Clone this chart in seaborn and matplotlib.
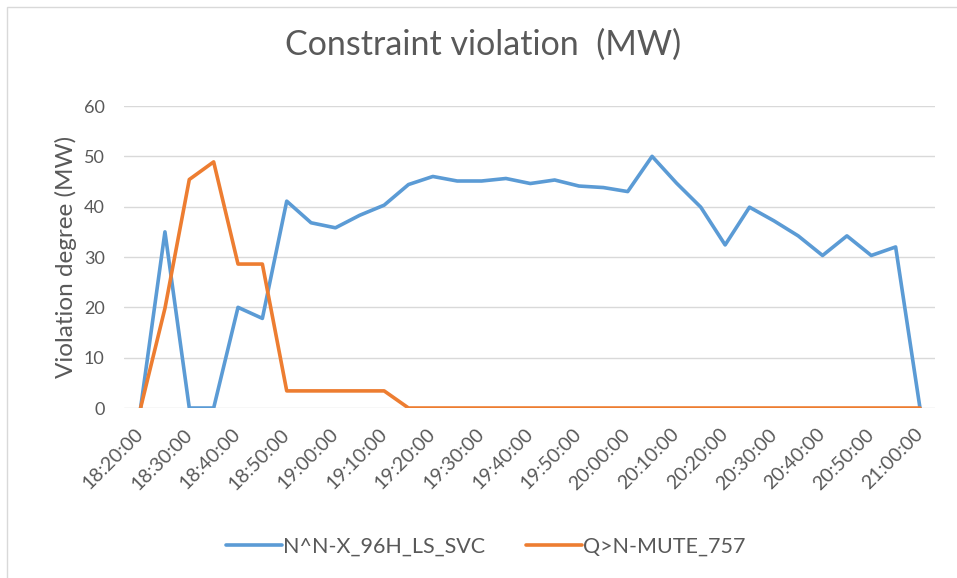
import numpy as np
import pandas as pd
import matplotlib.pyplot as plt
import seaborn as sns
from matplotlib.patches import Rectangle

# 5-minute samples from 18:20 to 21:00
times = [
    "18:20:00", "18:25:00", "18:30:00", "18:35:00", "18:40:00", "18:45:00",
    "18:50:00", "18:55:00", "19:00:00", "19:05:00", "19:10:00", "19:15:00",
    "19:20:00", "19:25:00", "19:30:00", "19:35:00", "19:40:00", "19:45:00",
    "19:50:00", "19:55:00", "20:00:00", "20:05:00", "20:10:00", "20:15:00",
    "20:20:00", "20:25:00", "20:30:00", "20:35:00", "20:40:00", "20:45:00",
    "20:50:00", "20:55:00", "21:00:00",
]
svc_values = [
    0, 35, 0, 0, 20, 17.8, 41.1, 36.8, 35.8, 38.3, 40.3, 44.4,
    46.0, 45.1, 45.1, 45.6, 44.6, 45.3, 44.1, 43.8, 43.0, 50.0, 44.7, 39.9,
    32.4, 39.9, 37.2, 34.2, 30.3, 34.2, 30.3, 32.0, 0,
]
mute_values = [
    0, 19.8, 45.4, 48.9, 28.6, 28.6, 3.4, 3.4, 3.4, 3.4, 3.4, 0,
    0, 0, 0, 0, 0, 0, 0, 0, 0, 0, 0, 0,
    0, 0, 0, 0, 0, 0, 0, 0, 0,
]
series_names = ["N^N-X_96H_LS_SVC", "Q>N-MUTE_757"]
series_colors = ["#5B9BD5", "#ED7D31"]

# long-form table for seaborn
n = len(times)
df = pd.DataFrame({
    "idx": list(range(n)) * 2,
    "value": svc_values + mute_values,
    "series": [series_names[0]] * n + [series_names[1]] * n,
})

sns.set_theme(style="white")
plt.rcParams["font.family"] = ["Lato", "DejaVu Sans"]
text_grey = "#595959"

fig = plt.figure(figsize=(9.57, 5.78), dpi=100)
ax = fig.add_axes([0.1296, 0.2941, 0.8475, 0.5225])

sns.lineplot(
    data=df, x="idx", y="value", hue="series",
    palette=dict(zip(series_names, series_colors)),
    linewidth=2.6, ax=ax, legend=True,
)

ax.set_xlim(-0.68, n - 1 + 0.62)
ax.set_ylim(0, 60)
ax.set_yticks(range(0, 61, 10))
ax.yaxis.grid(True, color="#D9D9D9", linewidth=1)
ax.xaxis.grid(False)
for side in ["top", "right", "left", "bottom"]:
    ax.spines[side].set_visible(False)
ax.tick_params(axis="both", length=0, colors=text_grey, labelsize=13)
ax.tick_params(axis="y", pad=14)

tick_pos = list(range(0, n, 2))
ax.set_xticks(tick_pos)
ax.set_xticklabels([times[i] for i in tick_pos], rotation=45, ha="right",
                   rotation_mode="anchor", va="center", fontsize=14)
ax.tick_params(axis="x", pad=17)

ax.set_xlabel("")
ax.set_ylabel("Violation degree (MW)", fontsize=17.5, color=text_grey, labelpad=5)
fig.suptitle("Constraint violation  (MW)", fontsize=24.5, color=text_grey,
             x=0.505, y=0.95)

handles, labels = ax.get_legend_handles_labels()
ax.get_legend().remove()
fig.legend(handles, labels, loc="center", bbox_to_anchor=(0.508, 0.054), ncol=2,
           frameon=False, fontsize=15.5, handlelength=2.6, columnspacing=1.9,
           handletextpad=0.05, labelcolor=text_grey)

# light chart border like the Excel frame
fig.patches.append(Rectangle((7 / 957, -0.01), 1.0, 1 - 7 / 578 + 0.01,
                             transform=fig.transFigure, fill=False,
                             edgecolor="#D9D9D9", linewidth=1))

fig.savefig("out.png", dpi=100)
